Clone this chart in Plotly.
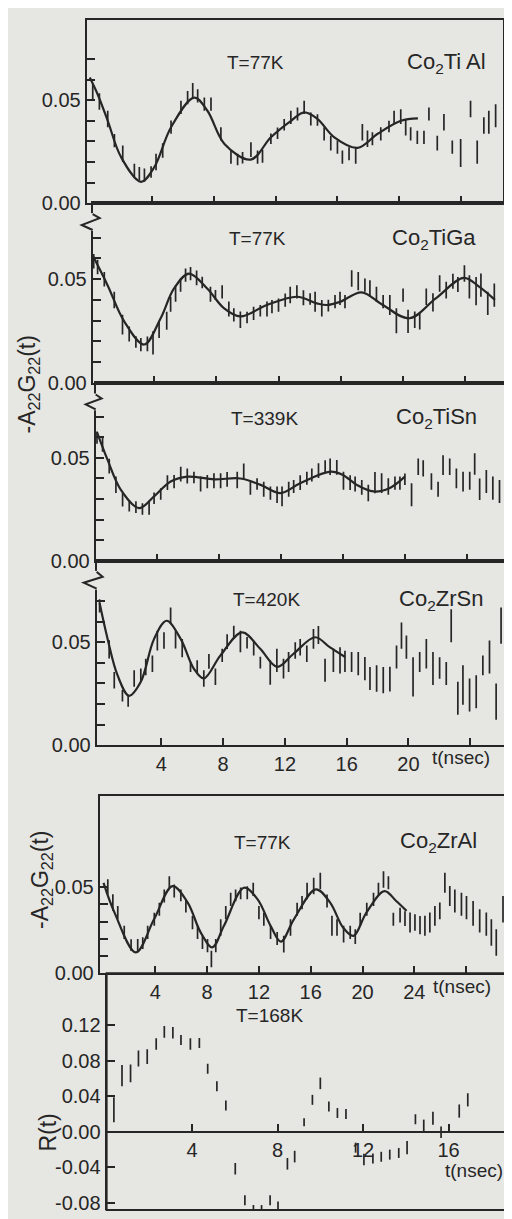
import plotly.graph_objects as go

# ---------------- data ----------------
# Panel 1: Co2TiAl, T=77K
t1 = [0.19,0.62,1.16,1.59,2.13,2.88,3.20,3.53,3.96,4.28,4.71,5.25,5.89,6.32,6.65,6.97,7.40,7.83,8.47,9.12,
      9.55,9.87,10.41,10.84,11.16,11.70,12.13,12.56,12.99,13.42,13.85,14.28,14.71,15.14,15.57,16.00,16.32,16.75,17.18,17.61,
      17.94,18.26,18.80,19.33,19.66,20.09,20.41,20.73,21.16,21.59,21.91,22.45,22.88,23.42,23.96,24.60,25.03,25.46,25.78,26.22]
v1 = [0.0537,0.0494,0.0409,0.0304,0.0240,0.0160,0.0144,0.0136,0.0152,0.0200,0.0256,0.0369,0.0465,0.0513,0.0548,0.0521,0.0481,0.0481,0.0337,0.0224,
      0.0212,0.0221,0.0260,0.0224,0.0228,0.0313,0.0340,0.0381,0.0417,0.0433,0.0465,0.0409,0.0404,0.0337,0.0292,0.0272,0.0224,0.0240,0.0232,0.0345,
      0.0313,0.0313,0.0337,0.0372,0.0417,0.0420,0.0369,0.0337,0.0320,0.0320,0.0433,0.0292,0.0393,0.0272,0.0244,0.0457,0.0248,0.0377,0.0393,0.0425]
e1 = [0.004,0.004,0.004,0.0032,0.004,0.0032,0.0032,0.0032,0.0028,0.004,0.0035,0.0032,0.0032,0.0032,0.0036,0.0032,0.0032,0.0032,0.0032,0.0032,
      0.0028,0.0028,0.0036,0.0032,0.0032,0.0025,0.0028,0.0028,0.0032,0.0032,0.0032,0.0032,0.0028,0.0032,0.0036,0.0032,0.0032,0.0032,0.004,0.004,
      0.004,0.0032,0.0032,0.0028,0.0032,0.0036,0.004,0.0032,0.0032,0.0032,0.0032,0.0036,0.004,0.0032,0.0068,0.004,0.0056,0.004,0.0056,0.0056]
f1t = [0.0,0.5,1.16,2.02,3.31,4.17,5.25,6.75,7.6,8.7,10.4,11.7,13.0,13.85,14.7,15.8,17.3,18.6,20.1,21.2]
f1v = [0.061,0.053,0.040,0.0224,0.0104,0.0176,0.0369,0.0513,0.0449,0.0288,0.0212,0.032,0.040,0.0441,0.041,0.032,0.0269,0.0337,0.040,0.0412]

# Panel 2: Co2TiGa, T=77K
t2 = [0.13,0.38,0.81,1.45,1.98,2.41,2.84,3.16,3.58,3.94,4.33,4.82,5.07,5.39,5.71,6.03,6.35,6.74,7.10,7.63,
      7.95,8.38,8.81,9.13,9.55,9.98,10.40,10.83,11.26,11.58,12.00,12.43,12.75,13.18,13.60,14.03,14.35,14.78,15.20,15.63,
      15.95,16.27,16.70,17.12,17.55,17.87,18.29,18.72,19.15,19.57,20.00,20.32,20.75,21.07,21.49,21.92,22.35,22.77,23.20,23.52,
      23.94,24.26,24.69,25.00,25.44,25.86]
v2 = [0.0586,0.0559,0.0500,0.0399,0.0280,0.0235,0.0196,0.0184,0.0187,0.0192,0.0256,0.0299,0.0379,0.0431,0.0471,0.0519,0.0527,0.0506,0.0484,0.0427,
      0.0423,0.0439,0.0356,0.0327,0.0304,0.0315,0.0335,0.0347,0.0356,0.0367,0.0375,0.0399,0.0423,0.0439,0.0410,0.0404,0.0391,0.0359,0.0372,0.0391,
      0.0407,0.0391,0.0503,0.0490,0.0471,0.0455,0.0427,0.0391,0.0375,0.0299,0.0423,0.0296,0.0304,0.0296,0.0415,0.0388,0.0479,0.0447,0.0490,0.0474,
      0.0527,0.0463,0.0442,0.0471,0.0383,0.0423]
e2 = [0.0035,0.0035,0.0035,0.004,0.0048,0.0036,0.0028,0.0032,0.0036,0.0056,0.004,0.0044,0.0036,0.004,0.0032,0.0032,0.0032,0.0036,0.0028,0.0036,
      0.0024,0.0032,0.0036,0.0032,0.004,0.0028,0.0032,0.0028,0.0036,0.0032,0.0032,0.0032,0.004,0.0032,0.0036,0.0028,0.0048,0.004,0.0028,0.0032,
      0.0032,0.0032,0.004,0.0044,0.0032,0.004,0.0036,0.0032,0.0048,0.006,0.0032,0.0056,0.004,0.004,0.004,0.0044,0.004,0.004,0.0036,0.0036,
      0.004,0.0056,0.0068,0.0056,0.0056,0.0056]
f2t = [0.06,1.02,2.09,3.37,4.43,5.29,6.25,7.42,8.49,9.55,11.26,13.18,14.46,15.1,15.95,17.33,18.7,20.4,22.1,23.9,24.9,25.9]
f2v = [0.0615,0.0471,0.0296,0.0184,0.0311,0.0455,0.0527,0.0455,0.036,0.032,0.0375,0.0415,0.0383,0.0375,0.039,0.0436,0.0375,0.0311,0.0407,0.0506,0.0463,0.040]

# Panel 3: Co2TiSn, T=339K
t3 = [0.15,0.51,0.94,1.37,1.80,2.23,2.66,3.08,3.51,3.83,4.26,4.69,5.12,5.55,5.97,6.40,6.83,7.26,7.69,8.12,
      8.54,9.19,9.61,10.04,10.47,10.90,11.33,11.76,12.08,12.51,12.83,13.25,13.68,14.00,14.43,14.86,15.18,15.61,16.04,16.47,
      16.79,17.22,17.64,18.07,18.50,18.93,19.36,19.68,20.00,20.43,20.86,21.18,21.71,22.14,22.46,22.89,23.32,23.75,24.18,24.50,
      24.82,25.25,25.67,26.10]
v3 = [0.0598,0.0566,0.0460,0.0369,0.0296,0.0268,0.0261,0.0252,0.0256,0.0304,0.0325,0.0380,0.0385,0.0421,0.0412,0.0405,0.0373,0.0385,0.0389,0.0389,
      0.0396,0.0393,0.0433,0.0353,0.0373,0.0348,0.0329,0.0321,0.0313,0.0348,0.0361,0.0380,0.0401,0.0417,0.0438,0.0457,0.0457,0.0454,0.0389,0.0380,
      0.0373,0.0357,0.0329,0.0380,0.0377,0.0361,0.0377,0.0377,0.0396,0.0321,0.0457,0.0449,0.0385,0.0348,0.0465,0.0457,0.0401,0.0385,0.0389,0.0470,
      0.0348,0.0385,0.0353,0.0337]
e3 = [0.003,0.0036,0.0036,0.004,0.0032,0.0028,0.0028,0.0028,0.0032,0.0028,0.0028,0.0036,0.0032,0.0036,0.0036,0.0028,0.0036,0.0032,0.0036,0.0036,
      0.0036,0.004,0.004,0.0032,0.0028,0.0036,0.0032,0.004,0.0048,0.0036,0.0032,0.0036,0.0032,0.0032,0.0036,0.0032,0.004,0.0036,0.0044,0.0036,
      0.0036,0.0036,0.004,0.0052,0.0048,0.004,0.0032,0.0032,0.0028,0.0056,0.004,0.004,0.004,0.0036,0.0048,0.004,0.0048,0.0048,0.0044,0.0052,
      0.0052,0.0056,0.0056,0.0056]
f3t = [0.15,0.84,1.69,2.87,3.83,4.9,5.97,7.7,9.4,10.7,11.97,13.25,15.2,16.0,16.9,17.97,19.0,20.0]
f3v = [0.0625,0.0489,0.0345,0.0256,0.0313,0.0385,0.0409,0.0396,0.040,0.0369,0.0329,0.0377,0.0433,0.0417,0.0369,0.0337,0.0353,0.0409]

# Panel 4: Co2ZrSn, T=420K
t4 = [0.0,0.62,0.95,1.48,1.85,2.24,2.67,2.99,3.42,3.74,4.17,4.60,4.92,5.35,5.89,6.32,6.75,7.08,7.50,7.94,
      8.26,8.69,9.12,9.55,9.98,10.41,11.05,11.48,11.91,12.24,12.67,12.99,13.42,13.85,14.17,14.60,15.14,15.57,15.89,16.32,
      16.75,17.18,17.51,17.94,18.37,18.80,19.23,19.55,19.87,20.30,20.73,21.16,21.59,22.02,22.45,22.77,23.20,23.53,23.96,24.39,
      24.82,25.25,25.68,26.00,26.32]
v4 = [0.0676,0.0465,0.0316,0.0240,0.0215,0.0324,0.0340,0.0380,0.0396,0.0508,0.0508,0.0628,0.0513,0.0471,0.0380,0.0380,0.0324,0.0407,0.0332,0.0436,
      0.0503,0.0548,0.0503,0.0497,0.0471,0.0401,0.0353,0.0412,0.0372,0.0404,0.0460,0.0476,0.0444,0.0516,0.0535,0.0364,0.0412,0.0412,0.0407,0.0404,
      0.0396,0.0372,0.0324,0.0324,0.0316,0.0321,0.0428,0.0532,0.0476,0.0332,0.0404,0.0444,0.0372,0.0375,0.0348,0.0580,0.0228,0.0292,0.0244,0.0260,
      0.0388,0.0428,0.0212,0.0580,0.0484]
e4 = [0.0032,0.0044,0.004,0.0028,0.0028,0.004,0.0032,0.004,0.004,0.0048,0.004,0.004,0.0044,0.0044,0.0024,0.0032,0.004,0.0036,0.004,0.0032,
      0.0036,0.0032,0.0052,0.0028,0.0036,0.0028,0.006,0.0056,0.0048,0.0048,0.004,0.004,0.004,0.0048,0.0044,0.0056,0.0056,0.0064,0.0052,0.0048,
      0.0056,0.0056,0.0056,0.0064,0.0064,0.006,0.0056,0.0064,0.0056,0.0095,0.0048,0.0072,0.008,0.0052,0.0056,0.008,0.008,0.0096,0.008,0.008,
      0.0048,0.008,0.0088,0.0088,0.0088]
f4t = [0.0,0.52,1.16,1.91,2.67,3.53,4.34,5.25,6.1,6.75,7.83,9.23,10.4,11.5,12.56,13.96,14.9,15.9]
f4v = [0.069,0.0516,0.034,0.024,0.0308,0.0516,0.0604,0.0516,0.0372,0.0324,0.0436,0.0548,0.0468,0.038,0.0444,0.0524,0.0476,0.0428]

# Panel 5: Co2ZrAl, T=77K
t5 = [0.33,0.72,1.10,1.60,2.13,2.64,3.03,3.41,3.92,4.31,4.69,5.08,5.46,5.97,6.36,6.87,7.26,7.64,8.03,8.33,
      8.67,9.05,9.44,9.82,10.20,10.59,11.10,11.56,12.00,12.38,12.90,13.41,13.92,14.44,14.95,15.33,15.72,16.23,16.74,17.26,
      17.64,18.03,18.54,19.05,19.44,19.82,20.33,20.85,21.23,21.62,22.00,22.38,22.90,23.28,23.67,24.05,24.44,24.82,25.20,25.59,
      25.97,26.36,26.74,27.13,27.64,28.03,28.54,29.05,29.56,29.95,30.33,30.85,31.10]
v5 = [0.0502,0.0410,0.0352,0.0237,0.0163,0.0160,0.0175,0.0237,0.0313,0.0371,0.0448,0.0525,0.0477,0.0452,0.0390,0.0294,0.0237,0.0179,0.0160,0.0083,
      0.0160,0.0265,0.0352,0.0429,0.0452,0.0463,0.0467,0.0487,0.0352,0.0313,0.0237,0.0202,0.0169,0.0265,0.0371,0.0410,0.0477,0.0506,0.0535,0.0419,
      0.0275,0.0265,0.0227,0.0237,0.0213,0.0313,0.0371,0.0429,0.0487,0.0544,0.0525,0.0313,0.0337,0.0317,0.0294,0.0294,0.0279,0.0275,0.0294,0.0333,
      0.0362,0.0525,0.0448,0.0419,0.0400,0.0381,0.0348,0.0304,0.0285,0.0237,0.0179,0.0371,0.0410]
e5 = [0.0043,0.0048,0.0038,0.0038,0.0034,0.0038,0.0034,0.0038,0.0038,0.0038,0.0038,0.0038,0.0038,0.0034,0.0038,0.0038,0.0038,0.0038,0.0038,0.0048,
      0.0038,0.0048,0.0038,0.0038,0.0034,0.0034,0.0038,0.0038,0.0038,0.0038,0.0038,0.0038,0.0048,0.0048,0.0038,0.0038,0.0048,0.0048,0.0048,0.0038,
      0.0058,0.0048,0.0048,0.0038,0.0043,0.0038,0.0038,0.0038,0.0038,0.0048,0.0038,0.0038,0.0043,0.0043,0.0058,0.0048,0.0053,0.0058,0.0058,0.0058,
      0.0048,0.0058,0.0058,0.0067,0.0067,0.0067,0.0072,0.0067,0.0067,0.0077,0.0077,0.0077,0.0077]
f5t = [0.0,0.85,2.5,3.9,5.33,6.5,7.5,8.4,9.3,10.85,11.9,12.9,13.7,14.7,16.4,17.5,18.5,19.3,20.3,21.7,22.6,23.4]
f5v = [0.0525,0.0352,0.0121,0.0313,0.0506,0.041,0.0237,0.015,0.0275,0.0496,0.0429,0.0275,0.0183,0.0313,0.0487,0.041,0.0265,0.0217,0.0352,0.0477,0.0419,0.0362]

# Panel 6: R(t), T=168K
t6 = [0.34,0.72,1.12,1.49,1.90,2.32,2.70,3.10,3.48,3.92,4.34,4.73,5.16,5.58,6.02,6.47,6.87,7.25,7.65,8.02,
      8.46,8.80,9.24,9.63,10.00,10.40,10.80,11.20,11.65,12.04,12.46,12.85,13.25,13.67,14.06,14.45,14.84,15.27,15.65,16.50,16.90]
v6 = [0.0248,0.0630,0.0655,0.0822,0.0844,0.0985,0.1122,0.1111,0.1030,0.0985,0.0996,0.0707,0.0511,0.0296,-0.0415,-0.0767,-0.0896,-0.0896,-0.0767,-0.0848,
      -0.0359,-0.0278,0.0107,0.0359,0.0544,0.0285,0.0211,0.0200,-0.0178,-0.0311,-0.0300,-0.0280,-0.0256,-0.0237,-0.0178,0.0141,0.0063,0.0152,-0.0004,0.0233,0.0359]
e6 = [0.014,0.012,0.010,0.009,0.0083,0.0065,0.0065,0.0065,0.0056,0.0065,0.0056,0.0056,0.0056,0.0056,0.0065,0.0056,0.0074,0.0074,0.0056,0.0065,
      0.0065,0.0065,0.0045,0.0056,0.0065,0.0056,0.0056,0.0056,0.0056,0.0065,0.0056,0.0056,0.0056,0.0056,0.0074,0.0056,0.0074,0.0074,0.0065,0.0074,0.0074]

temps = ["T=77K", "T=77K", "T=339K", "T=420K", "T=77K", "T=168K"]
compounds = ["Co<sub>2</sub>Ti Al", "Co<sub>2</sub>TiGa", "Co<sub>2</sub>TiSn", "Co<sub>2</sub>ZrSn", "Co<sub>2</sub>ZrAl", ""]

# ---------------- layout geometry ----------------
W, H = 512, 1219
INK = "#262626"
BG = "#e6e6e3"
FONT = "Liberation Sans"

def fx(px):
    return px / W

def fy(py):
    return 1 - py / H

panels = [
    dict(t=t1, v=v1, e=e1, ft=f1t, fv=f1v, xpx=(79, 497), ypx=(12, 197), xr=[-0.2, 26.7], yr=[0, 0.089], tpos=(248, 55), cpos=(440, 55)),
    dict(t=t2, v=v2, e=e2, ft=f2t, fv=f2v, xpx=(85, 499), ypx=(197, 378), xr=[0.064, 26.55], yr=[0, 0.0867], tpos=(250, 233), cpos=(428, 233)),
    dict(t=t3, v=v3, e=e3, ft=f3t, fv=f3v, xpx=(88, 502), ypx=(378, 558), xr=[0.064, 26.65], yr=[0, 0.0865], tpos=(258, 414), cpos=(430, 414)),
    dict(t=t4, v=v4, e=e4, ft=f4t, fv=f4v, xpx=(89, 504), ypx=(558, 744), xr=[-0.19, 26.58], yr=[0, 0.0894], tpos=(260, 597), cpos=(435, 597)),
    dict(t=t5, v=v5, e=e5, ft=f5t, fv=f5v, xpx=(92, 508), ypx=(795, 974), xr=[-0.3, 31.7], yr=[0, 0.103], tpos=(255, 842), cpos=(432, 842)),
    dict(t=t6, v=v6, e=e6, ft=None, fv=None, xpx=(99, 512), ypx=(974, 1213), xr=[0, 19.25], yr=[-0.0878, 0.178], tpos=(263, 1017), cpos=None),
]

fig = go.Figure()
layout = dict(width=W, height=H, margin=dict(l=0, r=0, t=0, b=0), paper_bgcolor=BG, plot_bgcolor=BG,
              showlegend=False, font=dict(family=FONT, color=INK, size=20))
annotations = []
shapes = []

tickfont = dict(family=FONT, size=20, color=INK)

for i, p in enumerate(panels, 1):
    xa = "x" if i == 1 else f"x{i}"
    ya = "y" if i == 1 else f"y{i}"
    fig.add_trace(go.Scatter(
        x=p["t"], y=p["v"], mode="markers", xaxis=xa, yaxis=ya,
        marker=dict(size=2, color="rgba(0,0,0,0)"),
        error_y=dict(type="data", array=p["e"], visible=True, width=0, thickness=1.7, color=INK),
        hoverinfo="skip"))
    if p["ft"] is not None:
        fig.add_trace(go.Scatter(
            x=p["ft"], y=p["fv"], mode="lines", xaxis=xa, yaxis=ya,
            line=dict(color=INK, width=2.2, shape="spline", smoothing=1.0), hoverinfo="skip"))

    xdom = [fx(p["xpx"][0]), fx(p["xpx"][1])]
    ydom = [fy(p["ypx"][1]), fy(p["ypx"][0])]
    xkey = "xaxis" if i == 1 else f"xaxis{i}"
    ykey = "yaxis" if i == 1 else f"yaxis{i}"

    xaxis = dict(domain=xdom, range=p["xr"], showgrid=False, zeroline=False, showline=True,
                 linecolor=INK, linewidth=2, ticks="inside", ticklen=7, tickwidth=1.6, tickcolor=INK,
                 tickfont=tickfont, fixedrange=True)
    yaxis = dict(domain=ydom, range=p["yr"], showgrid=False, zeroline=False, showline=True,
                 linecolor=INK, linewidth=2, ticks="inside", ticklen=8, tickwidth=1.6, tickcolor=INK,
                 tickfont=tickfont, fixedrange=True, anchor=xa, mirror=True)

    if i <= 4:
        xaxis.update(anchor=ya, mirror=True, tickvals=[4, 8, 12, 16, 20, 24])
        if i == 4:
            xaxis.update(ticktext=["4", "8", "12", "16", "20", ""], showticklabels=True)
        else:
            xaxis.update(showticklabels=False)
        yaxis.update(tickvals=[0, 0.01, 0.02, 0.03, 0.04, 0.05, 0.06, 0.07],
                     ticktext=["0.00", "", "", "", "", "0.05", "", ""])
    elif i == 5:
        xaxis.update(anchor=ya, mirror=True, tickvals=[4, 8, 12, 16, 20, 24, 28],
                     ticktext=["4", "8", "12", "16", "20", "24", ""])
        yaxis.update(tickvals=[0, 0.01, 0.02, 0.03, 0.04, 0.05],
                     ticktext=["0.00", "", "", "", "", "0.05"])
    else:
        xaxis.update(anchor="free", position=fy(1134), tickvals=[4, 8, 12, 16],
                     ticktext=["4", "8", "12", "16"])
        yaxis.update(tickvals=[-0.08, -0.04, 0, 0.04, 0.08, 0.12],
                     ticktext=["-0.08", "-0.04", "0.00", "0.04", "0.08", "0.12"])
        shapes.append(dict(type="rect", xref=f"{xa} domain", yref=f"{ya} domain", x0=0, x1=1, y0=0, y1=1,
                           line=dict(color=INK, width=2), layer="above"))
    layout[xkey] = xaxis
    layout[ykey] = yaxis

    annotations.append(dict(text=temps[i - 1], x=fx(p["tpos"][0]), y=fy(p["tpos"][1]), xref="paper", yref="paper",
                            showarrow=False, xanchor="center", yanchor="middle",
                            font=dict(family=FONT, size=19, color=INK)))
    if p["cpos"] is not None:
        annotations.append(dict(text=compounds[i - 1], x=fx(p["cpos"][0]), y=fy(p["cpos"][1]), xref="paper", yref="paper",
                                showarrow=False, xanchor="center", yanchor="middle",
                                font=dict(family=FONT, size=22, color=INK)))

# axis titles and t(nsec) labels
for txt, (px, py), ang in [("-A<sub>22</sub>G<sub>22</sub>(t)", (21, 380), -90),
                           ("-A<sub>22</sub>G<sub>22</sub>(t)", (33, 880), -90),
                           ("R(t)", (40, 1135), -90)]:
    annotations.append(dict(text=txt, x=fx(px), y=fy(py), xref="paper", yref="paper", textangle=ang,
                            showarrow=False, xanchor="center", yanchor="middle",
                            font=dict(family=FONT, size=23, color=INK)))
for (px, py) in [(455, 756), (456, 987), (468, 1173)]:
    annotations.append(dict(text="t(nsec)", x=fx(px), y=fy(py), xref="paper", yref="paper",
                            showarrow=False, xanchor="center", yanchor="middle",
                            font=dict(family=FONT, size=19, color=INK)))

# axis-break zigzags on the left axes
for pts in [[(85, 208), (92, 212), (74, 219), (85, 224)],
            [(88, 390), (94, 394), (78, 400), (88, 405)],
            [(89, 569), (95, 574), (76, 580), (89, 586)]]:
    shapes.append(dict(type="line", xref="paper", yref="paper", x0=fx(pts[0][0]), y0=fy(pts[0][1] - 1),
                       x1=fx(pts[-1][0]), y1=fy(pts[-1][1] + 1), line=dict(color=BG, width=5), layer="above"))
    path = "M " + " L ".join(f"{fx(a):.5f},{fy(b):.5f}" for a, b in pts)
    shapes.append(dict(type="path", xref="paper", yref="paper", path=path,
                       line=dict(color=INK, width=2), layer="above"))

layout["annotations"] = annotations
layout["shapes"] = shapes
fig.update_layout(**layout)
fig.write_html("out.html")
